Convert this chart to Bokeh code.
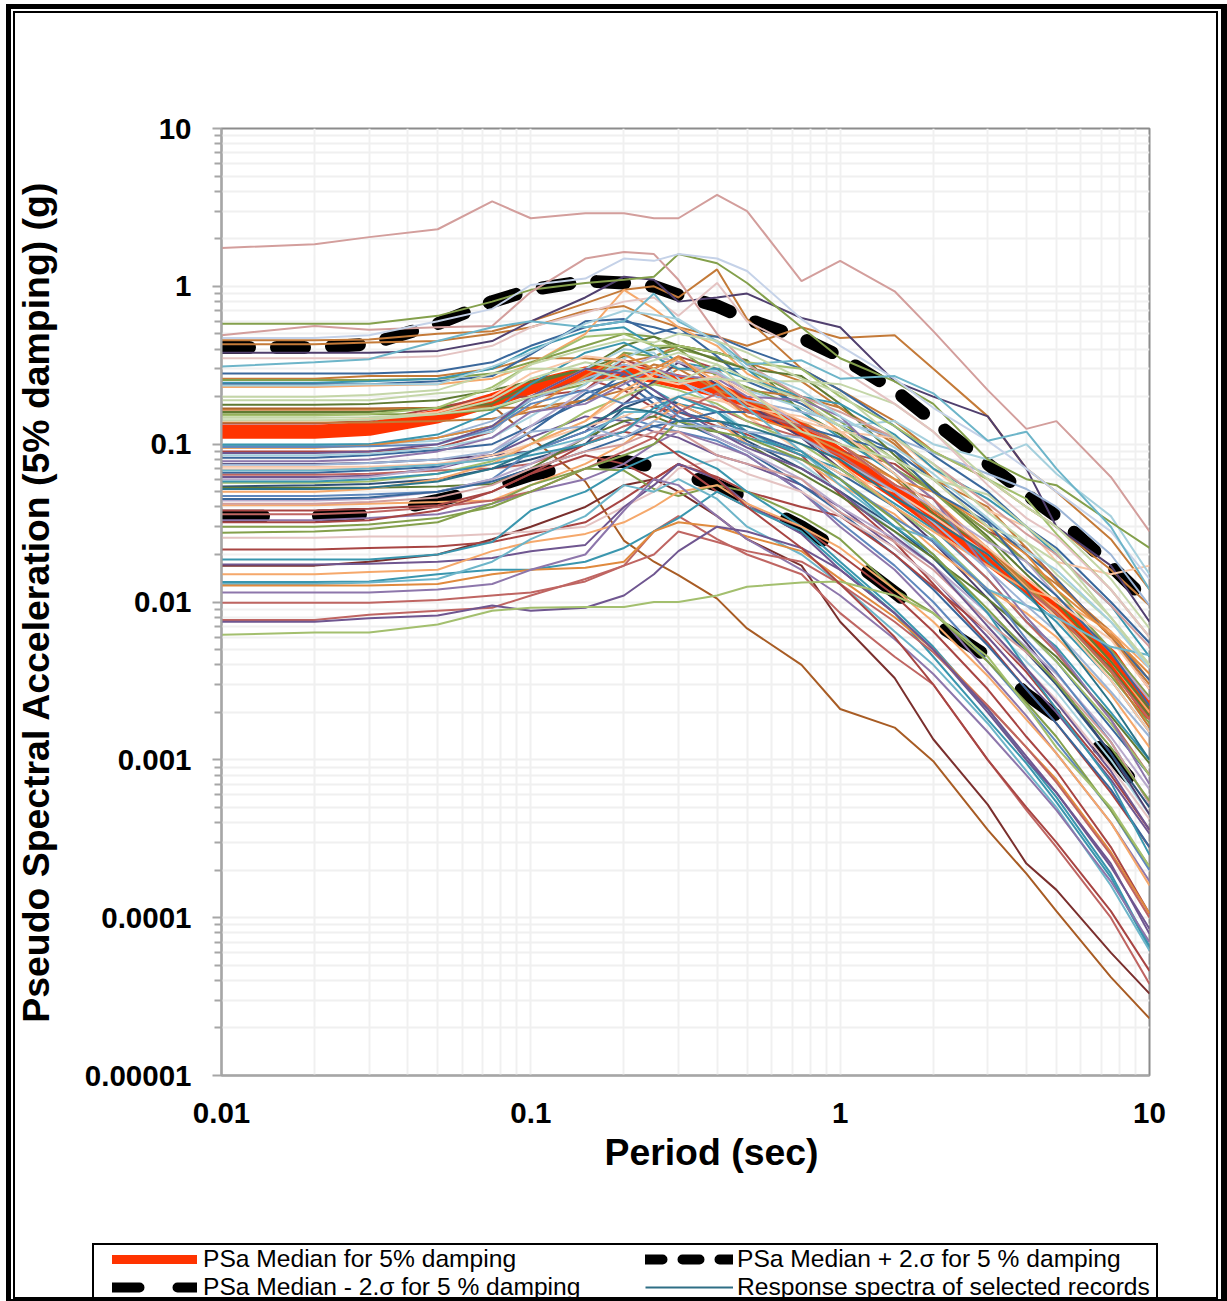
from bokeh.plotting import figure
from bokeh.layouts import column
from bokeh.models import FixedTicker, CustomJSTickFormatter, Legend, LegendItem, Div
from bokeh.embed import file_html
from bokeh.resources import INLINE

periods = [0.01,0.02,0.03,0.05,0.075,0.1,0.15,0.2,0.25,0.3,0.4,0.5,0.75,1,1.5,2,3,4,5,7.5,10]

median = [0.12,0.12,0.125,0.15,0.19,0.23,0.28,0.29,0.27,0.25,0.22,0.18,0.125,0.085,0.05,0.033,0.019,0.0125,0.009,0.0045,0.002]
plus2s = [0.41,0.41,0.43,0.58,0.8,0.95,1.08,1.05,1.0,0.88,0.75,0.62,0.47,0.36,0.22,0.14,0.075,0.048,0.035,0.017,0.0098]
minus2s = [0.035,0.035,0.036,0.044,0.053,0.064,0.075,0.078,0.072,0.065,0.055,0.045,0.03,0.021,0.0115,0.0075,0.0045,0.0026,0.0019,0.00105,0.00055]

r01 = [1.75,1.85,2.05,2.3,3.45,2.7,2.9,2.9,2.7,2.7,3.8,3.0,1.08,1.45,0.93,0.52,0.22,0.125,0.14,0.062,0.028]
r02 = [0.58,0.58,0.58,0.65,0.8,0.95,1.05,1.1,1.15,1.6,1.4,1.05,0.55,0.35,0.25,0.18,0.08,0.06,0.055,0.032,0.022]
r03 = [0.49,0.56,0.53,0.55,0.56,0.92,1.5,1.65,1.6,1.1,0.5,0.32,0.2,0.16,0.11,0.075,0.042,0.027,0.02,0.0095,0.0052]
r04 = [0.47,0.47,0.49,0.6,0.72,1.02,1.12,1.5,1.45,1.6,1.5,1.25,0.62,0.42,0.26,0.17,0.105,0.07,0.05,0.028,0.014]
r05 = [0.455,0.455,0.46,0.5,0.52,0.6,0.78,0.95,1.0,0.85,1.28,0.62,0.3,0.22,0.14,0.09,0.06,0.04,0.03,0.016,0.0095]
r06 = [0.43,0.43,0.44,0.45,0.5,0.55,0.7,0.75,0.62,0.55,0.48,0.42,0.55,0.47,0.49,0.3,0.15,0.07,0.05,0.025,0.012]
r07 = [0.38,0.38,0.38,0.39,0.45,0.6,0.85,1.15,1.1,0.8,0.85,0.9,0.63,0.55,0.25,0.2,0.15,0.07,0.03,0.017,0.0075]
r08 = [0.35,0.35,0.35,0.36,0.42,0.55,0.68,0.8,0.85,0.65,1.05,0.6,0.4,0.3,0.18,0.12,0.055,0.034,0.026,0.012,0.006]
r09 = [0.31,0.33,0.345,0.45,0.55,0.6,0.55,0.6,0.9,0.6,0.45,0.32,0.34,0.26,0.27,0.21,0.105,0.12,0.07,0.03,0.012]
r10 = [0.28,0.28,0.28,0.29,0.33,0.42,0.55,0.6,0.55,0.5,0.48,0.4,0.3,0.22,0.13,0.085,0.05,0.03,0.022,0.01,0.0055]
r11 = [0.26,0.26,0.27,0.27,0.3,0.35,0.35,0.33,0.36,0.42,0.38,0.33,0.25,0.17,0.1,0.06,0.03,0.018,0.013,0.0065,0.0032]
r12 = [0.255,0.255,0.255,0.26,0.28,0.33,0.42,0.5,0.48,0.4,0.35,0.3,0.2,0.14,0.08,0.05,0.028,0.018,0.012,0.005,0.0025]
r13 = [0.245,0.245,0.25,0.26,0.3,0.4,0.52,0.55,0.42,0.33,0.3,0.3,0.16,0.11,0.065,0.04,0.018,0.011,0.0075,0.0032,0.0015]
r14 = [0.24,0.24,0.24,0.25,0.27,0.37,0.6,0.62,0.5,0.55,0.36,0.25,0.18,0.13,0.09,0.06,0.033,0.02,0.014,0.006,0.0032]
r15 = [0.235,0.235,0.24,0.24,0.31,0.38,0.58,0.7,0.66,0.62,0.44,0.3,0.22,0.15,0.095,0.065,0.034,0.021,0.016,0.0075,0.0038]
r16 = [0.23,0.23,0.235,0.24,0.26,0.32,0.5,0.95,0.72,0.55,0.42,0.28,0.19,0.12,0.07,0.045,0.022,0.0125,0.009,0.0042,0.002]
r17 = [0.19,0.19,0.19,0.21,0.22,0.32,0.4,0.46,0.44,0.5,0.45,0.38,0.26,0.21,0.11,0.075,0.037,0.024,0.018,0.008,0.004]
r18 = [0.178,0.178,0.18,0.19,0.22,0.25,0.3,0.36,0.4,0.42,0.38,0.34,0.16,0.115,0.065,0.036,0.022,0.012,0.0085,0.0038,0.0019]
r19 = [0.165,0.165,0.165,0.17,0.17,0.17,0.19,0.25,0.32,0.3,0.28,0.22,0.2,0.17,0.105,0.06,0.04,0.022,0.0135,0.006,0.003]
r20 = [0.16,0.16,0.16,0.17,0.18,0.24,0.3,0.42,0.48,0.42,0.34,0.3,0.27,0.18,0.085,0.052,0.026,0.015,0.01,0.0042,0.0021]
r21 = [0.155,0.155,0.155,0.155,0.165,0.2,0.24,0.38,0.36,0.4,0.27,0.23,0.17,0.13,0.07,0.05,0.025,0.013,0.008,0.0034,0.0017]
r22 = [0.147,0.147,0.148,0.155,0.17,0.2,0.25,0.26,0.3,0.25,0.32,0.22,0.12,0.1,0.08,0.06,0.048,0.03,0.021,0.008,0.004]
r23 = [0.135,0.135,0.14,0.17,0.2,0.2,0.22,0.34,0.3,0.36,0.3,0.18,0.12,0.09,0.075,0.05,0.028,0.022,0.014,0.006,0.0028]
r24 = [0.137,0.137,0.137,0.14,0.145,0.16,0.19,0.22,0.24,0.3,0.22,0.19,0.14,0.1,0.06,0.038,0.022,0.013,0.0085,0.0036,0.0016]
r25 = [0.1,0.1,0.1,0.105,0.12,0.2,0.3,0.4,0.38,0.26,0.17,0.12,0.075,0.05,0.028,0.017,0.0075,0.0042,0.0027,0.001,0.00045]
r26 = [0.098,0.098,0.1,0.11,0.13,0.19,0.26,0.3,0.22,0.18,0.16,0.12,0.085,0.07,0.042,0.029,0.014,0.0075,0.0052,0.002,0.001]
r27 = [0.09,0.09,0.09,0.095,0.12,0.2,0.26,0.22,0.17,0.16,0.13,0.115,0.085,0.048,0.024,0.013,0.0055,0.0028,0.0017,0.00062,0.00028]
r28 = [0.082,0.082,0.085,0.092,0.1,0.13,0.19,0.28,0.2,0.16,0.14,0.12,0.09,0.065,0.04,0.026,0.0115,0.0065,0.0042,0.0016,0.0008]
r29 = [0.075,0.075,0.076,0.08,0.085,0.09,0.12,0.18,0.25,0.33,0.24,0.18,0.11,0.07,0.04,0.024,0.0105,0.0055,0.0032,0.0011,0.00045]
r30 = [0.072,0.072,0.072,0.075,0.085,0.1,0.14,0.2,0.28,0.25,0.2,0.15,0.09,0.065,0.05,0.035,0.02,0.012,0.008,0.0032,0.0015]
r31 = [0.066,0.066,0.068,0.072,0.085,0.12,0.21,0.25,0.18,0.14,0.11,0.09,0.055,0.037,0.02,0.012,0.0053,0.0028,0.0017,0.00065,0.00028]
r32 = [0.064,0.064,0.065,0.068,0.07,0.075,0.1,0.13,0.15,0.2,0.17,0.14,0.11,0.085,0.05,0.03,0.014,0.0075,0.0048,0.0018,0.0008]
r33 = [0.062,0.062,0.063,0.07,0.085,0.11,0.15,0.14,0.12,0.11,0.085,0.075,0.055,0.04,0.022,0.014,0.006,0.0032,0.002,0.00075,0.00034]
r34 = [0.057,0.057,0.058,0.065,0.078,0.1,0.16,0.2,0.24,0.22,0.18,0.14,0.1,0.07,0.04,0.026,0.012,0.0065,0.0042,0.0017,0.0008]
r35 = [0.054,0.055,0.056,0.06,0.07,0.08,0.1,0.17,0.2,0.18,0.14,0.105,0.07,0.05,0.03,0.019,0.0085,0.0048,0.003,0.0011,0.0005]
r36 = [0.053,0.053,0.053,0.054,0.056,0.07,0.11,0.14,0.15,0.13,0.12,0.1,0.065,0.047,0.028,0.019,0.0105,0.0065,0.0045,0.0019,0.00095]
r37 = [0.047,0.047,0.048,0.05,0.06,0.09,0.12,0.15,0.13,0.12,0.105,0.085,0.05,0.032,0.017,0.01,0.0042,0.0022,0.0013,0.00048,0.0002]
r38 = [0.044,0.044,0.045,0.05,0.06,0.075,0.11,0.12,0.16,0.15,0.11,0.09,0.06,0.04,0.025,0.017,0.0085,0.0052,0.0035,0.0014,0.00065]
r39 = [0.041,0.041,0.042,0.043,0.044,0.055,0.075,0.1,0.14,0.18,0.14,0.1,0.08,0.055,0.036,0.022,0.012,0.0085,0.006,0.0026,0.0012]
r40 = [0.038,0.038,0.039,0.041,0.05,0.065,0.085,0.075,0.06,0.075,0.062,0.05,0.04,0.035,0.02,0.0125,0.0065,0.0036,0.0021,0.0008,0.00036]
r41 = [0.033,0.033,0.034,0.036,0.042,0.05,0.06,0.075,0.1,0.12,0.1,0.085,0.05,0.03,0.016,0.009,0.0036,0.0019,0.0011,0.0004,0.00017]
r42 = [0.0275,0.028,0.029,0.032,0.042,0.055,0.07,0.068,0.052,0.047,0.055,0.05,0.035,0.025,0.012,0.0085,0.0042,0.0023,0.0014,0.00048,0.00021]
r43 = [0.0255,0.0255,0.026,0.026,0.027,0.028,0.03,0.04,0.05,0.07,0.08,0.065,0.05,0.035,0.022,0.014,0.0065,0.0038,0.0024,0.0009,0.00042]
r44 = [0.0215,0.0215,0.022,0.0225,0.024,0.027,0.032,0.045,0.06,0.075,0.05,0.04,0.03,0.02,0.011,0.0065,0.0028,0.0014,0.00085,0.00028,0.000106]
r45 = [0.0186,0.0186,0.0186,0.02,0.024,0.038,0.05,0.07,0.085,0.09,0.07,0.05,0.03,0.018,0.009,0.0052,0.0021,0.001,0.00058,0.00019,6.6e-5]
r46 = [0.0173,0.0173,0.0175,0.018,0.019,0.021,0.023,0.04,0.055,0.075,0.06,0.042,0.027,0.016,0.0085,0.005,0.002,0.001,0.00062,0.00022,7.9e-5]
r47 = [0.015,0.015,0.0155,0.016,0.021,0.024,0.027,0.032,0.04,0.05,0.055,0.042,0.03,0.022,0.012,0.0075,0.0034,0.0018,0.0011,0.0004,0.00016]
r48 = [0.0134,0.0134,0.0135,0.015,0.016,0.016,0.018,0.022,0.028,0.034,0.05,0.04,0.028,0.017,0.0085,0.0045,0.0018,0.00095,0.00054,0.00018,6.4e-5]
r49 = [0.013,0.013,0.0133,0.014,0.018,0.025,0.035,0.055,0.05,0.06,0.045,0.03,0.02,0.013,0.0065,0.004,0.0017,0.00085,0.0005,0.00016,6.2e-5]
r50 = [0.0127,0.0127,0.0127,0.013,0.015,0.016,0.0165,0.018,0.028,0.032,0.03,0.026,0.021,0.014,0.008,0.005,0.0022,0.0012,0.00075,0.00026,0.000106]
r51 = [0.0115,0.0115,0.0115,0.012,0.013,0.016,0.02,0.038,0.06,0.055,0.035,0.025,0.016,0.011,0.0058,0.0035,0.0015,0.0008,0.00048,0.00017,7e-5]
r52 = [0.0099,0.0099,0.0099,0.0103,0.011,0.0115,0.0135,0.017,0.028,0.035,0.025,0.02,0.015,0.0085,0.0045,0.003,0.001,0.00048,0.00028,0.0001,3.8e-5]
r53 = [0.0077,0.0077,0.0083,0.0088,0.0092,0.011,0.014,0.017,0.02,0.028,0.024,0.021,0.018,0.013,0.0075,0.0048,0.0022,0.0012,0.00072,0.00025,0.0001]
r54 = [0.0075,0.0075,0.0079,0.0082,0.0095,0.0088,0.0092,0.011,0.015,0.021,0.03,0.028,0.022,0.016,0.0085,0.005,0.0021,0.00105,0.00062,0.00021,8.5e-5]
r55 = [0.0062,0.0064,0.0064,0.0072,0.0088,0.0092,0.0093,0.0093,0.01,0.01,0.011,0.0125,0.0133,0.0135,0.011,0.0085,0.0045,0.0022,0.0012,0.0005,0.00021]
r56 = [0.168,0.168,0.168,0.17,0.175,0.11,0.058,0.0245,0.018,0.0148,0.0105,0.0068,0.004,0.0021,0.0016,0.00098,0.00036,0.00019,0.00011,4.2e-5,2.3e-5]
r57 = [0.017,0.017,0.018,0.02,0.025,0.03,0.04,0.055,0.06,0.05,0.035,0.025,0.017,0.0075,0.0033,0.00135,0.00052,0.00022,0.00015,6e-5,3.3e-5]
r58 = [0.032,0.032,0.033,0.038,0.05,0.065,0.1,0.12,0.11,0.085,0.06,0.04,0.022,0.013,0.006,0.003,0.001,0.0005,0.0003,0.00011,4.6e-5]
r59 = [0.069,0.069,0.07,0.075,0.08,0.1,0.13,0.15,0.18,0.2,0.19,0.17,0.15,0.12,0.11,0.07,0.038,0.03,0.018,0.015,0.017]
r60 = [0.097,0.097,0.098,0.11,0.14,0.19,0.26,0.32,0.28,0.25,0.2,0.19,0.16,0.14,0.11,0.088,0.065,0.052,0.04,0.02,0.0095]
r61 = [0.085,0.085,0.087,0.095,0.11,0.15,0.24,0.35,0.42,0.3,0.29,0.22,0.17,0.13,0.14,0.1,0.08,0.1,0.065,0.035,0.015]
r62 = [0.099,0.099,0.1,0.115,0.16,0.24,0.38,0.44,0.36,0.3,0.3,0.26,0.2,0.18,0.115,0.07,0.045,0.03,0.02,0.0095,0.0045]
r63 = [0.152,0.152,0.155,0.17,0.23,0.32,0.48,0.5,0.42,0.42,0.38,0.33,0.3,0.2,0.13,0.09,0.06,0.045,0.027,0.012,0.006]
r64 = [0.06,0.06,0.062,0.07,0.09,0.13,0.22,0.3,0.36,0.33,0.28,0.22,0.13,0.1,0.055,0.04,0.024,0.018,0.011,0.0048,0.0024]
r65 = [0.05,0.05,0.052,0.06,0.075,0.1,0.14,0.22,0.28,0.35,0.25,0.18,0.13,0.075,0.04,0.028,0.017,0.012,0.0105,0.0065,0.0038]
r66 = [0.078,0.078,0.08,0.09,0.11,0.16,0.18,0.24,0.3,0.27,0.26,0.2,0.19,0.15,0.07,0.045,0.016,0.008,0.005,0.0018,0.0007]
r67 = [0.095,0.095,0.098,0.11,0.13,0.17,0.27,0.37,0.3,0.36,0.22,0.15,0.12,0.09,0.06,0.05,0.03,0.02,0.012,0.0062,0.0035]
r68 = [0.045,0.045,0.046,0.05,0.058,0.07,0.09,0.11,0.13,0.14,0.16,0.16,0.13,0.11,0.09,0.05,0.032,0.016,0.011,0.0048,0.0022]
r69 = [0.036,0.036,0.037,0.04,0.044,0.05,0.07,0.09,0.11,0.16,0.21,0.16,0.13,0.1,0.055,0.045,0.02,0.012,0.0085,0.0037,0.0018]
r70 = [0.14,0.14,0.145,0.16,0.2,0.28,0.36,0.34,0.26,0.24,0.27,0.21,0.14,0.12,0.065,0.04,0.022,0.014,0.01,0.0058,0.0028]
r71 = [0.2,0.2,0.205,0.22,0.28,0.3,0.3,0.26,0.26,0.25,0.26,0.25,0.25,0.24,0.18,0.12,0.06,0.04,0.03,0.014,0.0068]
r72 = [0.068,0.068,0.07,0.074,0.08,0.09,0.11,0.16,0.16,0.2,0.24,0.17,0.09,0.055,0.03,0.025,0.012,0.0095,0.008,0.0052,0.0046]
r73 = [0.096,0.096,0.097,0.1,0.125,0.18,0.22,0.18,0.2,0.15,0.12,0.1,0.08,0.06,0.034,0.024,0.012,0.0058,0.0036,0.0013,0.00053]
r74 = [0.058,0.058,0.06,0.065,0.075,0.085,0.1,0.12,0.17,0.2,0.16,0.11,0.09,0.06,0.03,0.02,0.0085,0.0038,0.0021,0.00072,0.00025]
r75 = [0.042,0.042,0.043,0.046,0.055,0.07,0.09,0.1,0.12,0.12,0.085,0.075,0.06,0.037,0.024,0.016,0.0075,0.0048,0.0032,0.0013,0.00053]
r76 = [0.088,0.088,0.09,0.1,0.13,0.2,0.3,0.28,0.22,0.17,0.12,0.095,0.07,0.05,0.026,0.017,0.007,0.0038,0.0023,0.00085,0.00036]
r77 = [0.03,0.03,0.031,0.034,0.04,0.05,0.07,0.085,0.1,0.14,0.12,0.11,0.08,0.06,0.033,0.02,0.009,0.005,0.0031,0.0012,0.00055]
r78 = [0.074,0.074,0.076,0.08,0.09,0.12,0.13,0.11,0.14,0.13,0.13,0.12,0.11,0.08,0.05,0.032,0.016,0.0095,0.0065,0.0027,0.0014]
r79 = [0.052,0.052,0.053,0.058,0.07,0.09,0.13,0.17,0.16,0.14,0.14,0.13,0.1,0.08,0.046,0.033,0.02,0.012,0.0065,0.0023,0.001]
r80 = [0.142,0.142,0.143,0.155,0.19,0.26,0.33,0.3,0.34,0.38,0.32,0.26,0.19,0.13,0.08,0.06,0.03,0.024,0.015,0.0075,0.004]

records = [r56,r57,r11,r18,r23,r27,r33,r44,r52,r31,r05,r06,r07,r10,r12,r13,r14,r16,r19,r20,r21,r24,r25,r26,r28,
           r29,r30,r32,r34,r35,r36,r37,r38,r39,r40,r41,r42,r43,r45,r46,r47,r48,r49,r50,r51,r53,r54,r55,r58,r59,
           r60,r61,r62,r63,r64,r65,r66,r67,r68,r69,r70,r71,r72,r73,r74,r75,r76,r77,r78,r79,r80,r01,r02,r03,r04,
           r08,r09,r15,r17,r22]

palette = ["#3a689c","#a84543","#84a04c","#6f5690","#3a96ae","#e08a3e","#5f88bd","#bf6562","#a3bf6e","#8d76ab",
           "#6db5c9","#f5a86b","#9cb5d6","#d39e9c","#c4d6a8","#b7a9cb","#a5d0dd","#f9c6a6","#c5d2e8","#e4c3c2",
           "#2d5179","#7a2f2d","#5f7a33","#503f6e","#2b7488","#a85c24","#c47a38"]
record_colors = [25,21,26,22,1,1,3,1,7,0,26,26,23,0,2,4,0,11,26,22,
                 2,26,16,4,0,23,17,7,8,20,22,6,15,11,1,9,2,19,4,3,
                 11,4,10,5,9,7,3,8,1,17,12,16,4,8,15,11,9,5,0,7,
                 17,14,10,6,4,13,3,2,12,24,14,13,2,13,18,19,10,16,14,14]

major_y = [1e-5,1e-4,1e-3,1e-2,1e-1,1,10]
minor_y = [m*d for d in major_y[:-1] for m in (2,3,4,5,6,7,8,9)]
major_x = [0.01,0.1,1,10]
minor_x = [m*d for d in major_x[:-1] for m in (2,3,4,5,6,7,8,9)]
legend_stub = [2,3]

FONT = "Liberation Sans"
NB = "\u00a0"
p = figure(width=1227, height=1243, x_axis_type="log", y_axis_type="log",
           x_range=(0.01,10), y_range=(1e-5,10), output_backend="svg", toolbar_location=None,
           min_border_left=221, min_border_right=78, min_border_top=128, min_border_bottom=168,
           x_axis_label=NB*5+"Period (sec)", y_axis_label=NB+"Pseudo Spectral Acceleration  (5% damping) (g)")
p.frame_align = False
p.xaxis.ticker = FixedTicker(ticks=major_x, minor_ticks=minor_x)
p.yaxis.ticker = FixedTicker(ticks=major_y, minor_ticks=minor_y)
fmt = CustomJSTickFormatter(code="return tick.toString()")
p.xaxis.formatter = fmt
p.yaxis.formatter = fmt
for g in p.grid:
    g.grid_line_color = "#f0f0f0"; g.grid_line_width = 2
    g.minor_grid_line_color = "#f0f0f0"; g.minor_grid_line_width = 2
p.outline_line_color = "#8c8c8c"; p.outline_line_width = 2
for ax in (p.xaxis[0], p.yaxis[0]):
    ax.axis_line_color = "#a6a6a6"; ax.axis_line_width = 2
    ax.major_tick_line_color = "#a6a6a6"; ax.minor_tick_line_color = "#a6a6a6"
    ax.major_tick_line_width = 2; ax.minor_tick_line_width = 2
    ax.major_tick_in = 0; ax.minor_tick_in = 0
    ax.major_label_text_font = FONT; ax.major_label_text_font_style = "bold"
    ax.major_label_text_font_size = "29.5px"; ax.major_label_text_color = "#000000"
    ax.axis_label_text_font = FONT; ax.axis_label_text_font_style = "bold"
    ax.axis_label_text_font_size = "37.4px"; ax.axis_label_text_color = "#000000"
p.yaxis.major_tick_out = 9; p.yaxis.minor_tick_out = 7
p.xaxis.major_tick_out = 0; p.xaxis.minor_tick_out = 0
p.yaxis.major_label_standoff = 21; p.xaxis.major_label_standoff = 27
p.yaxis.axis_label_standoff = 25; p.xaxis.axis_label_standoff = 5

p.line(periods, minus2s, line_color="#000000", line_width=13, line_dash="42 55", line_cap="round")
p.line(periods, plus2s, line_color="#000000", line_width=13, line_dash="28 27", line_cap="round")
p.line(periods, median, line_color="#ff3300", line_width=14, line_cap="round")
for rec, c in zip(records, record_colors):
    p.line(periods, rec, line_color=palette[c], line_width=2)

lg = figure(width=1227, height=58, x_range=(0,1), y_range=(0,1), output_backend="svg", toolbar_location=None,
            x_axis_location=None, y_axis_location=None, min_border=0, outline_line_color=None)
lg.frame_align = False
lg.grid.visible = False
l_med = lg.line(legend_stub, legend_stub, line_color="#ff3300", line_width=9, line_cap="round")
l_minus = lg.line(legend_stub, legend_stub, line_color="#000000", line_width=10, line_dash="27 38", line_cap="round")
l_plus = lg.line(legend_stub, legend_stub, line_color="#000000", line_width=10, line_dash="17 20", line_cap="round")
l_rec = lg.line(legend_stub, legend_stub, line_color="#2f6f85", line_width=2)

common = dict(border_line_color=None, background_fill_alpha=0, padding=0, margin=0, spacing=0,
              glyph_height=20, label_text_font=FONT, label_text_font_size="24.6px", label_text_color="#000000")
lg.add_layout(Legend(items=[LegendItem(label="PSa Median for 5% damping", renderers=[l_med]),
                            LegendItem(label="PSa Median - 2.σ for 5 % damping", renderers=[l_minus])],
                     location=(112,0), glyph_width=85, label_standoff=6, **common), "center")
lg.add_layout(Legend(items=[LegendItem(label="PSa Median + 2.σ for 5 % damping", renderers=[l_plus]),
                            LegendItem(label="Response spectra of selected records", renderers=[l_rec])],
                     location=(645,0), glyph_width=88, label_standoff=4, **common), "center")

def frame_div(left, top, w, h, widths):
    return Div(text="", width=w, height=h, margin=0, styles={"position":"absolute","left":f"{left}px","top":f"{top}px",
               "box-sizing":"border-box","border-style":"solid","border-color":"#000000","border-width":widths,
               "pointer-events":"none"})

outer = frame_div(6, 4, 1221, 1297, "5px 6px 2px 5px")
inner = frame_div(13, 11, 1205, 1288, "2px")
box = frame_div(92, 1243, 1066, 58, "2px 2px 0 2px")

open("out.html", "w").write(file_html(column(p, lg, outer, inner, box, spacing=0), INLINE))
